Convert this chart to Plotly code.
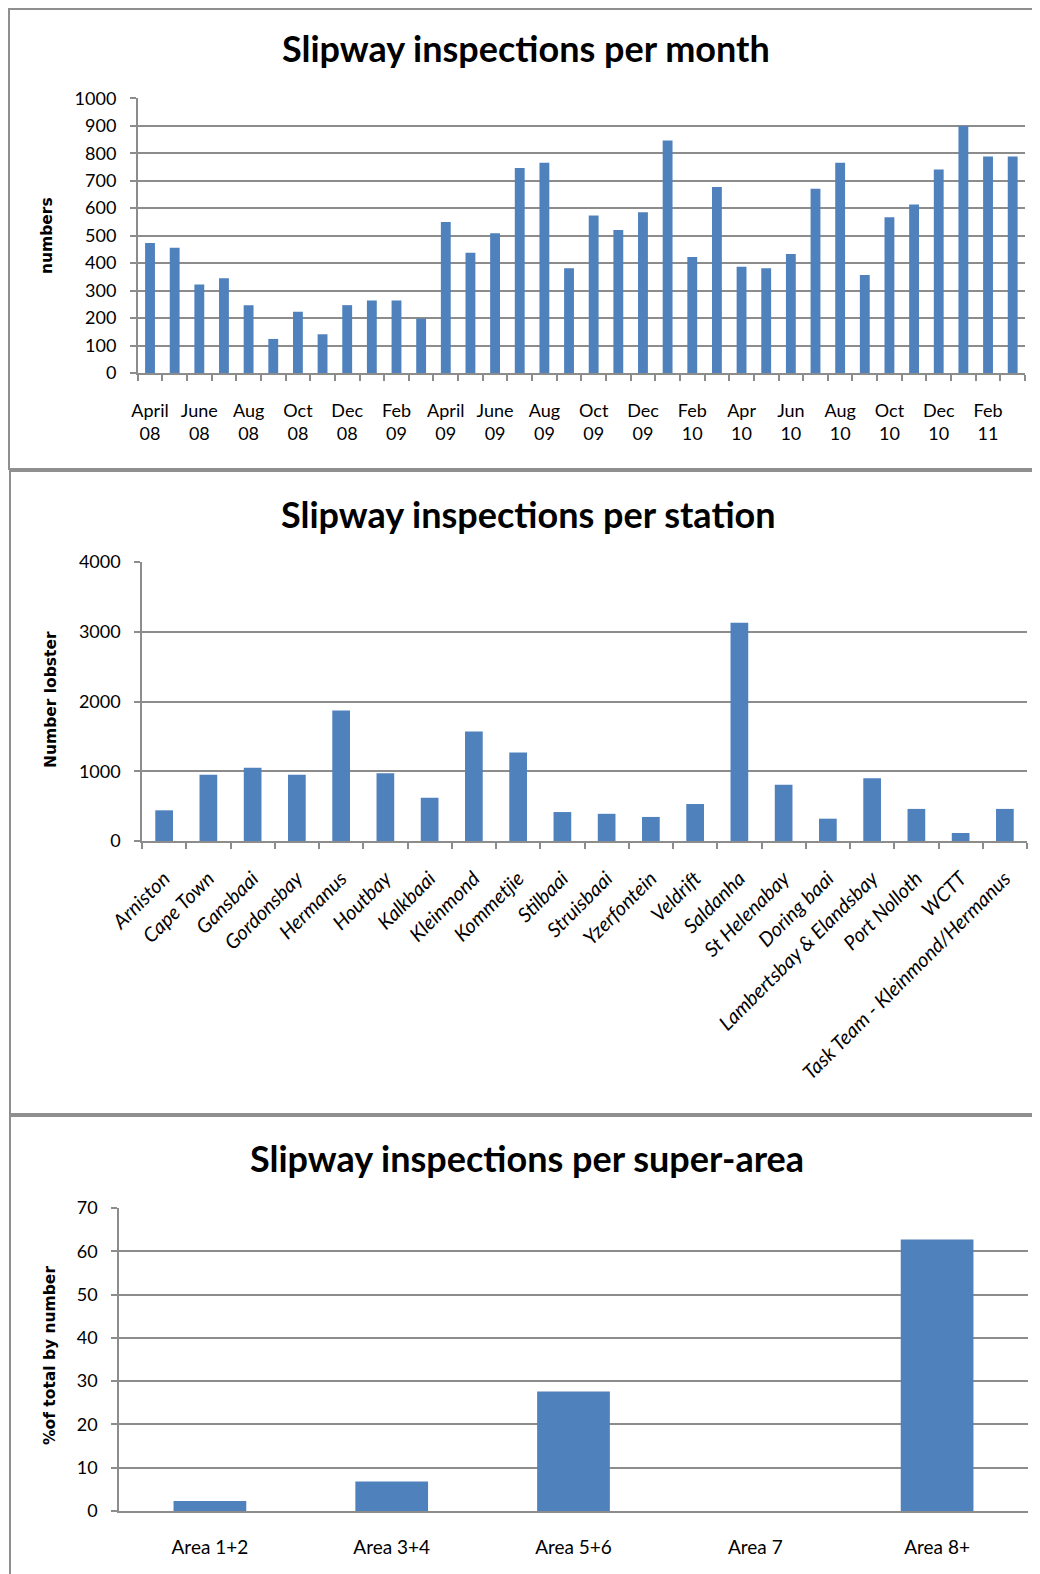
import plotly.graph_objects as go

# ---------------- data ----------------
months = ["Apr 08", "May 08", "Jun 08", "Jul 08", "Aug 08", "Sep 08", "Oct 08", "Nov 08", "Dec 08",
          "Jan 09", "Feb 09", "Mar 09", "Apr 09", "May 09", "Jun 09", "Jul 09", "Aug 09", "Sep 09",
          "Oct 09", "Nov 09", "Dec 09", "Jan 10", "Feb 10", "Mar 10", "Apr 10", "May 10", "Jun 10",
          "Jul 10", "Aug 10", "Sep 10", "Oct 10", "Nov 10", "Dec 10", "Jan 11", "Feb 11", "Mar 11"]
month_values = [473, 456, 322, 345, 247, 124, 223, 141, 247, 264, 264, 198,
                550, 438, 509, 746, 765, 381, 573, 521, 585, 846, 422, 677,
                387, 381, 433, 671, 765, 357, 567, 613, 741, 899, 788, 788]
month_tick_labels = ["April<br>08", "June<br>08", "Aug<br>08", "Oct<br>08", "Dec<br>08", "Feb<br>09",
                     "April<br>09", "June<br>09", "Aug<br>09", "Oct<br>09", "Dec<br>09", "Feb<br>10",
                     "Apr<br>10", "Jun<br>10", "Aug<br>10", "Oct<br>10", "Dec<br>10", "Feb<br>11"]

stations = ["Arniston", "Cape Town", "Gansbaai", "Gordonsbay", "Hermanus", "Houtbay", "Kalkbaai",
            "Kleinmond", "Kommetjie", "Stilbaai", "Struisbaai", "Yzerfontein", "Veldrift", "Saldanha",
            "St Helenabay", "Doring baai", "Lambertsbay & Elandsbay", "Port Nolloth", "WCTT",
            "Task Team - Kleinmond/Hermanus"]
station_values = [440, 950, 1050, 950, 1870, 970, 620, 1570, 1270, 415,
                  390, 345, 530, 3130, 805, 320, 900, 460, 115, 460]

areas = ["Area 1+2", "Area 3+4", "Area 5+6", "Area 7", "Area 8+"]
area_values = [2.3, 6.8, 27.6, 0, 62.7]

# ---------------- style ----------------
PAGE_W, PAGE_H = 1040, 1574
OFF = 8  # default page body margin
W, H = PAGE_W - OFF, PAGE_H - OFF
BAR = "#4F81BD"
GRID = "#8C8C8C"
FONT = "Lato, 'Open Sans', sans-serif"
TFONT = "'DejaVu Sans', Verdana, sans-serif"


def px_x(p):
    return (p - OFF) / W


def px_y(p):
    return 1 - (p - OFF) / H


fig = go.Figure()

month_idx = list(range(len(months)))
fig.add_trace(go.Bar(x=month_idx, y=month_values, marker=dict(color=BAR, line=dict(width=0)),
                     width=0.4, xaxis="x", yaxis="y", hovertext=months, showlegend=False))
fig.add_trace(go.Bar(x=stations, y=station_values, marker=dict(color=BAR, line=dict(width=0)),
                     width=0.4, xaxis="x2", yaxis="y2", showlegend=False))
fig.add_trace(go.Bar(x=areas, y=area_values, marker=dict(color=BAR, line=dict(width=0)),
                     width=0.4, xaxis="x3", yaxis="y3", showlegend=False))

common_y = dict(showgrid=True, gridcolor=GRID, gridwidth=1.5, showline=True, linecolor=GRID,
                linewidth=1.5, ticks="outside", ticklen=6, tickcolor=GRID, tickwidth=1.5,
                tickfont=dict(family=FONT, size=18, color="black"), zeroline=False,
                ticklabelstandoff=10, automargin=False)

fig.update_layout(
    width=W, height=H, margin=dict(l=0, r=0, t=0, b=0, pad=0, autoexpand=False),
    paper_bgcolor="white", plot_bgcolor="white", bargap=0.6,
    xaxis=dict(domain=[px_x(137.7), px_x(1025)], anchor="y", range=[-0.5, len(months) - 0.5],
               tickmode="array", tickvals=month_idx[::2], ticktext=month_tick_labels,
               ticks="", showgrid=False, showline=True, linecolor=GRID, linewidth=2,
               zeroline=False, tickfont=dict(family=FONT, size=18, color="black"),
               ticklabelstandoff=20, automargin=False,
               minor=dict(tickmode="linear", tick0=-0.5, dtick=1, ticks="outside", ticklen=6,
                          tickcolor=GRID, tickwidth=1.5, showgrid=False)),
    yaxis=dict(domain=[px_y(373), px_y(98.3)], anchor="x", range=[0, 1000], dtick=100, **common_y),
    xaxis2=dict(domain=[px_x(142), px_x(1027)], anchor="y2", type="category",
                tickson="boundaries", ticks="outside", ticklen=6, tickcolor=GRID, tickwidth=1.5,
                showgrid=False, showline=True, linecolor=GRID, linewidth=2, tickangle=-45,
                tickfont=dict(family=FONT, size=20, color="black", style="italic"),
                ticklabelstandoff=16, automargin=False),
    yaxis2=dict(domain=[px_y(841), px_y(562)], anchor="x2", range=[0, 4000], dtick=1000, **common_y),
    xaxis3=dict(domain=[px_x(119), px_x(1028)], anchor="y3", type="category", ticks="",
                showgrid=False, showline=True, linecolor=GRID, linewidth=2,
                tickfont=dict(family=FONT, size=19, color="black"), ticklabelstandoff=18,
                automargin=False),
    yaxis3=dict(domain=[px_y(1511), px_y(1208)], anchor="x3", range=[0, 70], dtick=10, **common_y),
)

# panel borders
for x0, y0, y1 in [(9, 9, 469), (10, 471, 1114), (10, 1116, 1590)]:
    fig.add_shape(type="rect", xref="paper", yref="paper", x0=px_x(x0), x1=1.05,
                  y0=px_y(y1), y1=px_y(y0), line=dict(color="#8F8F8F", width=2),
                  fillcolor="rgba(0,0,0,0)", layer="below")

titles = [("Slipway inspections per month", 526, 48),
          ("Slipway inspections per station", 528, 514),
          ("Slipway inspections per super-area", 527, 1158)]
for text, cx, cy in titles:
    fig.add_annotation(text=f"<b>{text}</b>", xref="paper", yref="paper", x=px_x(cx), y=px_y(cy),
                       xanchor="center", yanchor="middle", showarrow=False,
                       font=dict(family=FONT, size=36, color="black"))

ytitles = [("numbers", 47, 236), ("Number lobster", 51, 700), ("%of total by number", 50, 1356)]
for text, cx, cy in ytitles:
    fig.add_annotation(text=f"<b>{text}</b>", xref="paper", yref="paper", x=px_x(cx), y=px_y(cy),
                       xanchor="center", yanchor="middle", showarrow=False, textangle=-90,
                       font=dict(family=TFONT, size=15.5, color="black"))

fig.write_html("out.html")
